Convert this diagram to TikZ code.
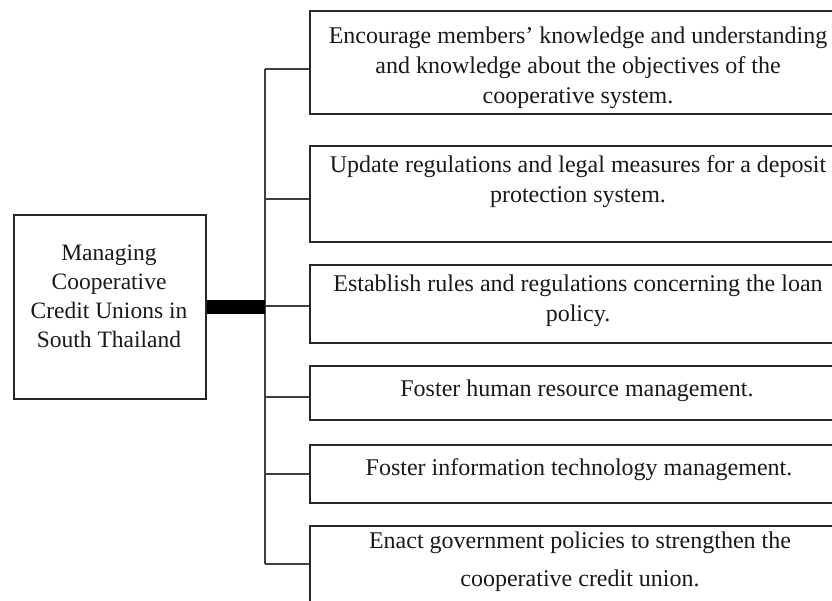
\documentclass[tikz,border=0pt]{standalone}
\usepackage{fontspec}
\setmainfont{Liberation Serif}
\begin{document}
\begin{tikzpicture}[x=1pt,y=-1pt,
  boxframe/.style={draw=black!85, line width=1.6pt, rectangle, inner sep=0pt, anchor=north west},
  boxtext/.style={align=center, inner sep=0pt, font=\fontsize{24}{30}\selectfont, text=black!90},
  link/.style={draw=black!75, line width=1.2pt},
  bar/.style={draw=black, line width=14pt}]
\useasboundingbox (0,0) rectangle (832,601);
\clip (0,0) rectangle (832,601);
% main box
\node[boxframe, minimum width=192, minimum height=184] (main) at (13,214) {};
\node[boxtext, font=\fontsize{23.5}{29}\selectfont] (mt) at (109,296) {Managing\\Cooperative\\Credit Unions in\\South Thailand};
% right boxes
\node[boxframe, minimum width=540, minimum height=103] (b1) at (309,10) {};
\node[boxframe, minimum width=540, minimum height=96]  (b2) at (309,145) {};
\node[boxframe, minimum width=540, minimum height=78]  (b3) at (309,264) {};
\node[boxframe, minimum width=540, minimum height=54]  (b4) at (309,365) {};
\node[boxframe, minimum width=540, minimum height=58]  (b5) at (309,444) {};
\node[boxframe, minimum width=540, minimum height=110] (b6) at (309,525) {};
% texts
\node[boxtext] (t1) at (578,68) {Encourage members’ knowledge and understanding\\and knowledge about the objectives of the\\cooperative system.};
\node[boxtext] (t2) at (578,182) {Update regulations and legal measures for a deposit\\protection system.};
\node[boxtext] (t3) at (578,301) {Establish rules and regulations concerning the loan\\policy.};
\node[boxtext] (t4) at (577,391) {Foster human resource management.};
\node[boxtext] (t5) at (579,470) {Foster information technology management.};
\node[boxtext] (t6) at (580,562) {Enact government policies to strengthen the\\[8pt]cooperative credit union.};
% spine junctions
\coordinate (j1) at (265,69);
\coordinate (j2) at (265,199);
\coordinate (j3) at (265,306);
\coordinate (j4) at (265,397);
\coordinate (j5) at (265,474);
\coordinate (j6) at (265,564);
\draw[link] (j1) -- (j6);
\foreach \i in {1,...,6} {\draw[link] (j\i) -- (j\i -| b\i.west);}
\draw[bar] (main.east) -- (main.east -| j3);
\end{tikzpicture}
\end{document}
